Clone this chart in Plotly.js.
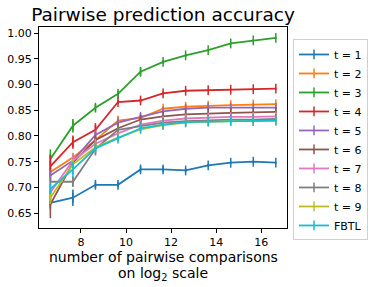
<!DOCTYPE html>
<html>
<head>
<meta charset="utf-8">
<script src="https://cdn.plot.ly/plotly-3.0.1.min.js"></script>
<style>html,body{margin:0;padding:0;background:#fff;}#chart{width:374px;height:287px;}</style>
</head>
<body>
<div id="chart"></div>
<script>
// log2 of the number of pairwise comparisons (100 * 2^k)
var xLog2 = [6.644, 7.644, 8.644, 9.644, 10.644, 11.644, 12.644, 13.644, 14.644, 15.644, 16.644];

var seriesNames = ["t = 1", "t = 2", "t = 3", "t = 4", "t = 5", "t = 6", "t = 7", "t = 8", "t = 9", "FBTL"];

var acc_t1 = [0.670, 0.680, 0.705, 0.705, 0.735, 0.735, 0.733, 0.743, 0.748, 0.750, 0.748];
var acc_t2 = [0.730, 0.758, 0.792, 0.830, 0.835, 0.853, 0.857, 0.859, 0.860, 0.861, 0.862];
var acc_t3 = [0.755, 0.820, 0.855, 0.882, 0.925, 0.944, 0.957, 0.967, 0.980, 0.986, 0.991];
var acc_t4 = [0.741, 0.788, 0.812, 0.866, 0.869, 0.883, 0.888, 0.889, 0.890, 0.891, 0.892];
var acc_t5 = [0.723, 0.752, 0.802, 0.826, 0.837, 0.848, 0.853, 0.855, 0.855, 0.855, 0.855];
var acc_t6 = [0.667, 0.748, 0.792, 0.815, 0.832, 0.838, 0.842, 0.844, 0.845, 0.846, 0.847];
var acc_t7 = [0.690, 0.752, 0.785, 0.805, 0.822, 0.830, 0.834, 0.836, 0.837, 0.837, 0.838];
var acc_t8 = [0.711, 0.711, 0.775, 0.812, 0.819, 0.826, 0.829, 0.831, 0.832, 0.832, 0.833];
var acc_t9 = [0.680, 0.745, 0.778, 0.797, 0.813, 0.821, 0.826, 0.828, 0.829, 0.829, 0.830];
var acc_fbtl = [0.697, 0.735, 0.776, 0.795, 0.815, 0.822, 0.827, 0.828, 0.829, 0.829, 0.830];

var err_t1 = [0.004, 0.016, 0.006, 0.005, 0.006, 0.006, 0.004, 0.003, 0.002, 0.002, 0.002];
var err_t2 = [0.008, 0.006, 0.006, 0.008, 0.005, 0.004, 0.003, 0.002, 0.002, 0.002, 0.002];
var err_t3 = [0.019, 0.013, 0.007, 0.006, 0.008, 0.004, 0.003, 0.002, 0.002, 0.002, 0.002];
var err_t4 = [0.022, 0.013, 0.013, 0.004, 0.004, 0.003, 0.002, 0.002, 0.002, 0.002, 0.002];
var err_t5 = [0.010, 0.008, 0.006, 0.005, 0.004, 0.003, 0.002, 0.002, 0.002, 0.002, 0.002];
var err_t6 = [0.027, 0.010, 0.006, 0.005, 0.004, 0.003, 0.002, 0.002, 0.002, 0.002, 0.002];
var err_t7 = [0.012, 0.015, 0.006, 0.005, 0.004, 0.003, 0.002, 0.002, 0.002, 0.002, 0.002];
var err_t8 = [0.008, 0.010, 0.013, 0.005, 0.004, 0.003, 0.002, 0.002, 0.002, 0.002, 0.002];
var err_t9 = [0.012, 0.010, 0.006, 0.005, 0.004, 0.003, 0.002, 0.002, 0.002, 0.002, 0.002];
var err_fbtl = [0.010, 0.015, 0.006, 0.005, 0.004, 0.003, 0.002, 0.002, 0.002, 0.002, 0.002];

var xTickVals = [8, 10, 12, 14, 16];
var yTickVals = [0.65, 0.70, 0.75, 0.80, 0.85, 0.90, 0.95, 1.00];

var colors = ["#1f77b4", "#ff7f0e", "#2ca02c", "#d62728", "#9467bd", "#8c564b", "#e377c2", "#7f7f7f", "#bcbd22", "#17becf"];
var accs = [acc_t1, acc_t2, acc_t3, acc_t4, acc_t5, acc_t6, acc_t7, acc_t8, acc_t9, acc_fbtl];
var errs = [err_t1, err_t2, err_t3, err_t4, err_t5, err_t6, err_t7, err_t8, err_t9, err_fbtl];

var traces = seriesNames.map(function (name, i) {
  return {
    type: "scatter",
    mode: "lines+markers",
    name: name,
    x: xLog2,
    y: accs[i],
    line: {color: colors[i], width: 1.8},
    marker: {symbol: "line-ns", size: 7, color: colors[i], line: {color: colors[i], width: 1.5}},
    error_y: {type: "data", array: errs[i], visible: true, width: 0, thickness: 1.6, color: colors[i]}
  };
});

var font = "DejaVu Sans, sans-serif";
// plot area: x 39..287 px, y 27..228.5 px ; paper spans 39..374
var paperW = 335;
var domRight = 248 / paperW;
var layout = {
  width: 374,
  height: 287,
  margin: {l: 39, r: 0, t: 27, b: 58.5, pad: 0},
  paper_bgcolor: "#fff",
  plot_bgcolor: "#fff",
  font: {family: font, color: "#000", size: 11},
  title: {text: "Pairwise prediction accuracy", x: domRight / 2, xref: "paper", xanchor: "center",
          y: 0.949, yref: "container", yanchor: "middle", font: {family: font, size: 18.5, color: "#000"}},
  showlegend: true,
  legend: {x: (293 - 39) / paperW, xanchor: "left", y: (228.5 - 39) / 201.5, yanchor: "top", bgcolor: "#fff",
           bordercolor: "#d0d0d0", borderwidth: 1,
           font: {family: font, size: 11, color: "#000"}},
  xaxis: {domain: [0, domRight], range: [6.14, 17.14], tickvals: xTickVals, ticktext: xTickVals.map(String),
          showgrid: false, zeroline: false, showline: true, mirror: true, linecolor: "#000", linewidth: 1,
          ticks: "outside", ticklen: 4, tickwidth: 1, tickcolor: "#000", tickfont: {size: 11}},
  yaxis: {range: [0.621, 1.012], tickvals: yTickVals, ticktext: yTickVals.map(function (v) { return v.toFixed(2); }),
          showgrid: false, zeroline: false, showline: true, mirror: true, linecolor: "#000", linewidth: 1,
          ticks: "outside", ticklen: 4, tickwidth: 1, tickcolor: "#000", tickfont: {size: 11}},
  annotations: [
    {text: "number of pairwise comparisons", xref: "paper", yref: "paper", x: domRight / 2, xanchor: "center",
     y: -(257.5 - 228.5) / 201.5, yanchor: "middle", showarrow: false, font: {size: 14, family: font, color: "#000"}},
    {text: "on log<sub>2</sub> scale", xref: "paper", yref: "paper", x: domRight / 2, xanchor: "center",
     y: -(274.5 - 228.5) / 201.5, yanchor: "middle", showarrow: false, font: {size: 14, family: font, color: "#000"}}
  ]
};

Plotly.newPlot("chart", traces, layout, {displayModeBar: false, staticPlot: true});
</script>
</body>
</html>
